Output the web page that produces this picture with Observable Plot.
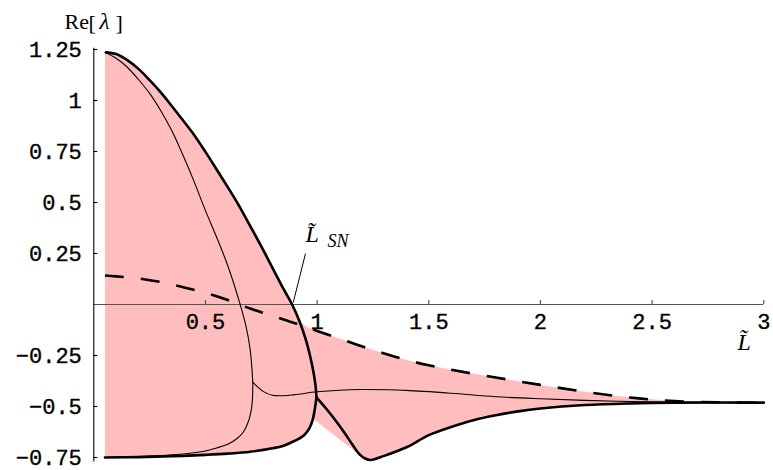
<!DOCTYPE html>
<html>
<head>
<meta charset="utf-8">
<script src="https://cdn.jsdelivr.net/npm/d3@7"></script>
<script src="https://cdn.jsdelivr.net/npm/@observablehq/plot@0.6"></script>
<style>
  html, body { margin: 0; padding: 0; background: #fff; }
  #chart { width: 773px; height: 470px; }
</style>
</head>
<body>
<div id="chart"></div>
<script>
// Real parts of the eigenvalues λ as functions of L̃: [L̃, Re λ]
const thickUpper = [[0.055,1.236],[0.10,1.228],[0.15,1.198],[0.20,1.155],[0.25,1.10],[0.30,1.04],[0.35,0.972],[0.40,0.902],[0.45,0.83],[0.50,0.748],[0.55,0.662],[0.60,0.575],[0.65,0.485],[0.70,0.385],[0.75,0.285],[0.80,0.18],[0.85,0.075],[0.888,0],[0.92,-0.08],[0.95,-0.175],[0.97,-0.26],[0.985,-0.34],[0.993,-0.40],[0.997,-0.455]];
const thickBottom = [[0.05,-0.750],[0.20,-0.748],[0.35,-0.744],[0.50,-0.737],[0.60,-0.731],[0.70,-0.722],[0.80,-0.705],[0.85,-0.692],[0.90,-0.668],[0.94,-0.642],[0.965,-0.607],[0.98,-0.565],[0.99,-0.51],[0.997,-0.455]];
const thickRight = [[0.997,-0.455],[1.04,-0.51],[1.08,-0.565],[1.12,-0.625],[1.16,-0.69],[1.19,-0.735],[1.215,-0.755],[1.24,-0.762],[1.30,-0.742],[1.40,-0.70],[1.50,-0.64],[1.60,-0.60],[1.70,-0.567],[1.80,-0.543],[1.90,-0.524],[2.00,-0.51],[2.20,-0.493],[2.40,-0.485],[2.60,-0.481],[3.00,-0.481]];
const thinUpper = [[0.05,1.235],[0.10,1.207],[0.15,1.163],[0.20,1.103],[0.25,1.035],[0.30,0.95],[0.35,0.85],[0.40,0.73],[0.45,0.60],[0.50,0.46],[0.55,0.33],[0.60,0.19],[0.65,0.02],[0.68,-0.10],[0.70,-0.22],[0.712,-0.381]];
const thinLower = [[0.05,-0.750],[0.20,-0.745],[0.30,-0.740],[0.40,-0.733],[0.50,-0.718],[0.55,-0.703],[0.60,-0.685],[0.64,-0.658],[0.67,-0.625],[0.69,-0.58],[0.703,-0.53],[0.71,-0.47],[0.712,-0.381]];
const thinRight = [[0.712,-0.381],[0.735,-0.405],[0.76,-0.427],[0.80,-0.445],[0.85,-0.447],[0.90,-0.442],[1.00,-0.428],[1.10,-0.42],[1.20,-0.417],[1.30,-0.418],[1.40,-0.421],[1.60,-0.435],[1.80,-0.452],[2.00,-0.462],[2.30,-0.473],[2.60,-0.479],[3.00,-0.481]];
const dashed = [[0.05,0.142],[0.10,0.138],[0.20,0.128],[0.30,0.110],[0.40,0.085],[0.50,0.057],[0.60,0.022],[0.70,-0.02],[0.80,-0.055],[0.90,-0.092],[0.95,-0.108],[1.00,-0.130],[1.10,-0.167],[1.20,-0.205],[1.30,-0.24],[1.40,-0.272],[1.50,-0.298],[1.60,-0.32],[1.80,-0.358],[2.00,-0.394],[2.20,-0.428],[2.40,-0.456],[2.60,-0.473],[2.80,-0.480],[3.00,-0.482]];
// lower edge of the shaded band where it cuts under the right-hand branch
const fillNotch = [[1.19,-0.737],[0.993,-0.57]];

// Axis ticks
const xTicks = [0.5, 1, 1.5, 2, 2.5, 3];
const xTickLabels = ["0.5", "1", "1.5", "2", "2.5", "3"];
const yTicks = [-0.75, -0.5, -0.25, 0.25, 0.5, 0.75, 1, 1.25];
const yTickLabels = ["\u22120.75", "\u22120.5", "\u22120.25", "0.25", "0.5", "0.75", "1", "1.25"];

// Annotation for the saddle-node point
const lsnLabelAt = [0.948, 0.304];
const lsnPointer = [[0.948, 0.25], [0.893, 0.01]];

const W = 773, H = 470;
const margin = {top: 49, right: 9.7, bottom: 13, left: 93.3};
const xDomain = [0, 3], yDomain = [-0.75, 1.25];
const yAxisSpan = [-0.772, 1.256];
const pxPerX = (W - margin.left - margin.right) / (xDomain[1] - xDomain[0]);
const pxPerY = (H - margin.top - margin.bottom) / (yDomain[1] - yDomain[0]);
const tickLen = 4;

const pink = "#ffbdbd";
const axisGray = "#555";
const mono = "Liberation Mono, Courier New, monospace";
const serif = "Liberation Serif, Times New Roman, serif";

const fillPolygon = [
  thinUpper[0],
  ...thickUpper.filter(([l]) => l <= 0.92),
  ...dashed.filter(([l]) => l >= 0.95),
  ...thickRight.filter(([l]) => l >= 1.2).reverse(),
  ...fillNotch,
  ...thickBottom.filter(([l]) => l <= 0.98).reverse()
];

const X = d => d[0], Y = d => d[1];
const xTickData = xTicks.map((v, i) => ({v, label: xTickLabels[i]}));
const yTickData = yTicks.map((v, i) => ({v, label: yTickLabels[i]}));

const curve = (data, width, extra = {}) =>
  Plot.line(data, {x: X, y: Y, stroke: "black", strokeWidth: width, curve: "catmull-rom", ...extra});

const tickFont = {fontFamily: mono, fontSize: 22, fill: "black", stroke: "black", strokeWidth: 0.35};
const title = (txt, px, py, extra = {}) =>
  Plot.text([txt], {frameAnchor: "top-left", text: d => d, dx: px - margin.left, dy: py - margin.top,
    textAnchor: "start", lineAnchor: "bottom", fontFamily: serif, fontSize: 22, fill: "black", ...extra});

const chart = Plot.plot({
  width: W,
  height: H,
  marginTop: margin.top,
  marginRight: margin.right,
  marginBottom: margin.bottom,
  marginLeft: margin.left,
  x: {domain: xDomain, axis: null},
  y: {domain: yDomain, axis: null},
  style: {background: "white", overflow: "visible"},
  marks: [
    // shaded band between the extreme branches
    Plot.line(fillPolygon, {x: X, y: Y, fill: pink, stroke: "none", curve: "linear"}),

    // horizontal axis through Re λ = 0
    Plot.ruleY([0], {x1: xDomain[0], x2: xDomain[1], stroke: axisGray, strokeWidth: 1.2}),
    Plot.ruleX(xTicks, {x: d => d, y1: 0, y2: tickLen / pxPerY, stroke: axisGray, strokeWidth: 1.2}),
    Plot.text(xTickData, {x: "v", y: 0, text: "label", dy: 24, lineAnchor: "bottom", ...tickFont}),

    // vertical axis at L̃ = 0
    Plot.ruleX([0], {y1: yAxisSpan[0], y2: yAxisSpan[1], stroke: "black", strokeWidth: 1.1}),
    Plot.ruleY(yTicks, {y: d => d, x1: 0, x2: tickLen / pxPerX, stroke: "black", strokeWidth: 1.1}),
    Plot.text(yTickData, {x: 0, y: "v", text: "label", textAnchor: "end", dx: -12, lineAnchor: "middle", ...tickFont}),

    // eigenvalue branches
    curve(thinUpper, 1.1),
    curve(thinLower, 1.1),
    curve(thinRight, 1.1),
    curve(dashed, 2.6, {strokeDasharray: "19,17", strokeLinecap: "butt"}),
    curve(thickUpper, 2.6),
    curve(thickBottom, 2.6),
    curve(thickRight, 2.6),

    // L̃_SN annotation
    Plot.link([lsnPointer], {x1: d => d[0][0], y1: d => d[0][1], x2: d => d[1][0], y2: d => d[1][1],
      stroke: "black", strokeWidth: 1}),
    Plot.text([lsnLabelAt], {x: X, y: Y, text: () => "L\u0303", textAnchor: "start", lineAnchor: "bottom",
      fontFamily: serif, fontStyle: "italic", fontSize: 24, fill: "black"}),
    Plot.text([lsnLabelAt], {x: X, y: Y, text: () => "SN", textAnchor: "start", lineAnchor: "bottom",
      dx: 22, dy: 5, fontFamily: serif, fontStyle: "italic", fontSize: 18, fill: "black"}),

    // axis titles
    title("Re", 64, 28),
    title("[", 88, 29),
    title("\u03bb", 99, 28, {fontStyle: "italic", fontSize: 23}),
    title("]", 115, 29),
    title("L\u0303", 737, 349, {fontStyle: "italic", fontSize: 24})
  ]
});

document.getElementById("chart").appendChild(chart);
</script>
</body>
</html>
